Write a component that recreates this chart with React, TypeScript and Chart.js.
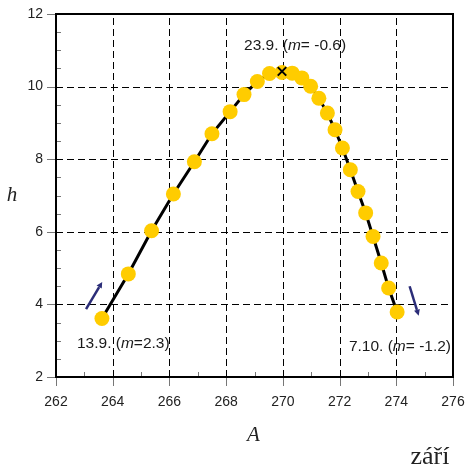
import { useEffect, useRef } from 'react';
import { Chart, registerables } from 'chart.js';

Chart.register(...registerables);

// Data
const A_VALUES = [263.62, 264.55, 265.37, 266.14, 266.88, 267.5, 268.14, 268.63, 269.1, 269.53, 269.97, 270.33, 270.67, 270.98, 271.27, 271.57, 271.84, 272.1, 272.38, 272.65, 272.92, 273.18, 273.47, 273.73, 274.03];
const H_VALUES = [3.61, 4.84, 6.03, 7.04, 7.93, 8.7, 9.31, 9.78, 10.14, 10.36, 10.39, 10.37, 10.24, 10.01, 9.68, 9.27, 8.81, 8.31, 7.71, 7.11, 6.52, 5.87, 5.14, 4.45, 3.79];
const PEAK = { x: 269.97, y: 10.42 };
const X_TICKS = [262, 264, 266, 268, 270, 272, 274, 276];
const Y_TICKS = [2, 4, 6, 8, 10, 12];
const X_MINOR = [263, 265, 267, 269, 271, 273, 275];
const Y_MINOR = [2.5, 3, 3.5, 4.5, 5, 5.5, 6.5, 7, 7.5, 8.5, 9, 9.5, 10.5, 11, 11.5];
const ANNOTATIONS = [
  { x: 262.74, y: 2.92, align: 'left', parts: [['13.9. (', false], ['m', true], ['=2.3)', false]] },
  { x: 268.63, y: 11.13, align: 'left', parts: [['23.9. (', false], ['m', true], ['= -0.6)', false]] },
  { x: 275.93, y: 2.83, align: 'right', parts: [['7.10. (', false], ['m', true], ['= -1.2)', false]] },
];
const ARROWS = [
  { from: [263.06, 3.87], to: [263.63, 4.62] },
  { from: [274.47, 4.5], to: [274.79, 3.69] },
];

const SANS = '"Liberation Sans", Arial, sans-serif';
const SERIF = '"Liberation Serif", "Times New Roman", serif';

const decor = {
  id: 'decor',
  beforeDatasetsDraw(chart: any) {
    const { ctx, chartArea: ca, scales } = chart;
    const x = scales.x, y = scales.y;
    ctx.save();
    ctx.strokeStyle = '#000';
    ctx.lineWidth = 1;
    ctx.setLineDash([7, 4]);
    for (const v of X_TICKS.slice(1, -1)) {
      const px = Math.round(x.getPixelForValue(v)) + 0.5;
      ctx.beginPath(); ctx.moveTo(px, ca.top + 4); ctx.lineTo(px, ca.bottom); ctx.stroke();
    }
    for (const v of Y_TICKS.slice(1, -1)) {
      const py = Math.round(y.getPixelForValue(v)) + 0.5;
      ctx.beginPath(); ctx.moveTo(ca.left, py); ctx.lineTo(ca.right, py); ctx.stroke();
    }
    ctx.restore();
  },
  afterDatasetsDraw(chart: any) {
    const { ctx, chartArea: ca, scales } = chart;
    const x = scales.x, y = scales.y;
    ctx.save();
    // ticks
    ctx.strokeStyle = '#777';
    ctx.lineWidth = 1;
    for (const v of X_TICKS) {
      const px = Math.round(x.getPixelForValue(v)) + 0.5;
      ctx.beginPath(); ctx.moveTo(px, ca.bottom); ctx.lineTo(px, ca.bottom + 9); ctx.stroke();
    }
    for (const v of X_MINOR) {
      const px = Math.round(x.getPixelForValue(v)) + 0.5;
      ctx.beginPath(); ctx.moveTo(px, ca.bottom); ctx.lineTo(px, ca.bottom - 5); ctx.stroke();
    }
    for (const v of Y_TICKS) {
      const py = Math.round(y.getPixelForValue(v)) + 0.5;
      ctx.beginPath(); ctx.moveTo(ca.left - 9, py); ctx.lineTo(ca.left, py); ctx.stroke();
    }
    for (const v of Y_MINOR) {
      const py = Math.round(y.getPixelForValue(v)) + 0.5;
      ctx.beginPath(); ctx.moveTo(ca.left, py); ctx.lineTo(ca.left + 5, py); ctx.stroke();
    }
    // frame
    ctx.strokeStyle = '#000';
    ctx.lineWidth = 2;
    ctx.strokeRect(ca.left, ca.top, ca.right - ca.left, ca.bottom - ca.top);

    // arrows
    ctx.strokeStyle = '#2b2d78';
    ctx.fillStyle = '#2b2d78';
    ctx.lineWidth = 2.5;
    for (const a of ARROWS) {
      const x0 = x.getPixelForValue(a.from[0]), y0 = y.getPixelForValue(a.from[1]);
      const x1 = x.getPixelForValue(a.to[0]), y1 = y.getPixelForValue(a.to[1]);
      const ang = Math.atan2(y1 - y0, x1 - x0);
      const hl = 6, hw = 3;
      const bx = x1 - hl * Math.cos(ang), by = y1 - hl * Math.sin(ang);
      ctx.beginPath(); ctx.moveTo(x0, y0); ctx.lineTo(bx, by); ctx.stroke();
      ctx.beginPath();
      ctx.moveTo(x1, y1);
      ctx.lineTo(bx + hw * Math.sin(ang), by - hw * Math.cos(ang));
      ctx.lineTo(bx - hw * Math.sin(ang), by + hw * Math.cos(ang));
      ctx.closePath(); ctx.fill();
    }

    // annotations
    ctx.fillStyle = '#1a1a1a';
    ctx.textBaseline = 'middle';
    ctx.textAlign = 'left';
    for (const an of ANNOTATIONS) {
      const fonts = an.parts.map(([, it]: any) => (it ? 'italic ' : '') + '15.5px ' + SANS);
      let total = 0;
      an.parts.forEach(([t]: any, i: number) => { ctx.font = fonts[i]; total += ctx.measureText(t).width; });
      let px = x.getPixelForValue(an.x);
      if (an.align === 'right') px -= total;
      const py = y.getPixelForValue(an.y);
      an.parts.forEach(([t]: any, i: number) => {
        ctx.font = fonts[i];
        ctx.fillText(t, px, py);
        px += ctx.measureText(t).width;
      });
    }

    // axis titles
    ctx.fillStyle = '#222';
    ctx.textAlign = 'center';
    ctx.font = 'italic 21px ' + SERIF;
    ctx.fillText('h', 12, (ca.top + ca.bottom) / 2);
    ctx.fillText('A', (ca.left + ca.right) / 2 - 1, ca.bottom + 58);
    ctx.font = '26px ' + SERIF;
    ctx.fillText('září', 430, ca.bottom + 80);
    ctx.restore();
  },
};

export default function App() {
  const ref = useRef<HTMLCanvasElement | null>(null);
  useEffect(() => {
    if (!ref.current) return;
    const points = A_VALUES.map((a, i) => ({ x: a, y: H_VALUES[i] }));
    const chart = new Chart(ref.current, {
      type: 'scatter',
      data: {
        datasets: [
          {
            data: points,
            order: 1,
            showLine: true,
            borderColor: '#000',
            borderWidth: 3,
            pointRadius: 7.5,
            pointHoverRadius: 7.5,
            pointBackgroundColor: '#ffcc00',
            pointBorderWidth: 0,
            pointBorderColor: '#ffcc00',
          },
          {
            data: [PEAK],
            order: 0,
            pointStyle: 'crossRot',
            pointRadius: 6,
            pointBorderColor: '#000',
            pointBorderWidth: 2,
            showLine: false,
          },
        ],
      },
      options: {
        responsive: false,
        animation: false,
        devicePixelRatio: 1,
        layout: { padding: { left: 0, top: 14, right: 13, bottom: 0 } },
        plugins: { legend: { display: false }, tooltip: { enabled: false } },
        events: [],
        scales: {
          x: {
            type: 'linear',
            min: 262,
            max: 276,
            afterBuildTicks: (s: any) => { s.ticks = X_TICKS.map((v) => ({ value: v })); },
            afterFit: (s: any) => { s.height = 94; },
            grid: { display: false, drawTicks: true, tickLength: 17 },
            border: { display: false },
            ticks: { padding: 0, color: '#222', font: { family: SANS, size: 14 } },
          },
          y: {
            type: 'linear',
            min: 2,
            max: 12,
            afterBuildTicks: (s: any) => { s.ticks = Y_TICKS.map((v) => ({ value: v })); },
            afterFit: (s: any) => { s.width = 56; },
            grid: { display: false, drawTicks: true, tickLength: 13 },
            border: { display: false },
            ticks: { padding: 0, color: '#222', font: { family: SANS, size: 14 } },
          },
        },
      },
      plugins: [decor],
    });
    return () => chart.destroy();
  }, []);
  return (
    <div style={{ position: 'absolute', left: 0, top: 0, width: 466, height: 471, background: '#fff' }}>
      <canvas ref={ref} width={466} height={471} style={{ display: 'block' }} />
    </div>
  );
}
